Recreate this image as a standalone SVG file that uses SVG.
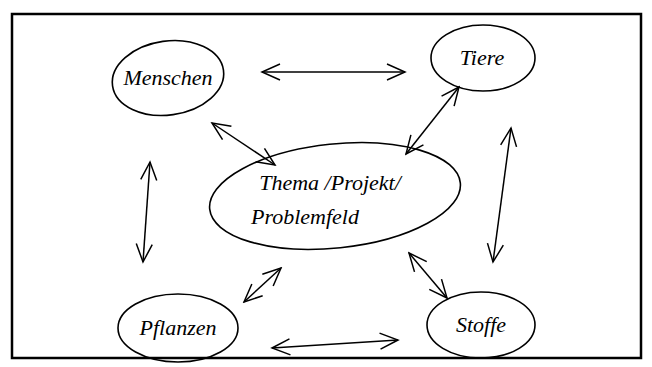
<svg xmlns="http://www.w3.org/2000/svg" width="652" height="367" viewBox="0 0 652 367">
<style>
.n{fill:none;stroke:#000;stroke-width:1.6}
.t{font-family:"Liberation Serif",serif;font-style:italic;font-size:22px;fill:#000;text-anchor:middle}
.c{fill:none;stroke:#000;stroke-width:1.5;marker-start:url(#h);marker-end:url(#h)}
</style>
<defs>
<marker id="h" viewBox="0 0 24 24" refX="22" refY="12" markerWidth="24" markerHeight="24" markerUnits="userSpaceOnUse" orient="auto-start-reverse">
<polyline points="4,4 22,12 4,20" fill="none" stroke="#000" stroke-width="1.5"/>
</marker>
</defs>
<rect x="12" y="14" width="629" height="344" fill="none" stroke="#000" stroke-width="2.5"/>
<g id="menschen"><ellipse class="n" cx="168" cy="78" rx="56" ry="37" transform="rotate(-8 168 78)"/><text class="t" x="168" y="85">Menschen</text></g>
<g id="tiere"><ellipse class="n" cx="483" cy="58" rx="52" ry="33"/><text class="t" x="482" y="65">Tiere</text></g>
<g id="thema"><ellipse class="n" cx="335" cy="196" rx="126" ry="52" transform="rotate(-6 335 196)"/><text class="t" x="330" y="190">Thema /Projekt/</text><text class="t" x="305" y="224">Problemfeld</text></g>
<g id="pflanzen"><ellipse class="n" cx="178" cy="328" rx="60" ry="34"/><text class="t" x="178" y="335">Pflanzen</text></g>
<g id="stoffe"><ellipse class="n" cx="481" cy="325" rx="54" ry="33"/><text class="t" x="481" y="332">Stoffe</text></g>
<g id="connectors">
<line class="c" x1="262" y1="72" x2="405" y2="72"/>
<line class="c" x1="212" y1="123" x2="275" y2="165"/>
<line class="c" x1="459" y1="87" x2="406" y2="154"/>
<line class="c" x1="511" y1="128" x2="493" y2="262"/>
<line class="c" x1="150" y1="162" x2="143" y2="262"/>
<line class="c" x1="244" y1="302" x2="281" y2="268"/>
<line class="c" x1="409" y1="253" x2="447" y2="298"/>
<line class="c" x1="272" y1="348" x2="398" y2="340"/>
</g>
</svg>
